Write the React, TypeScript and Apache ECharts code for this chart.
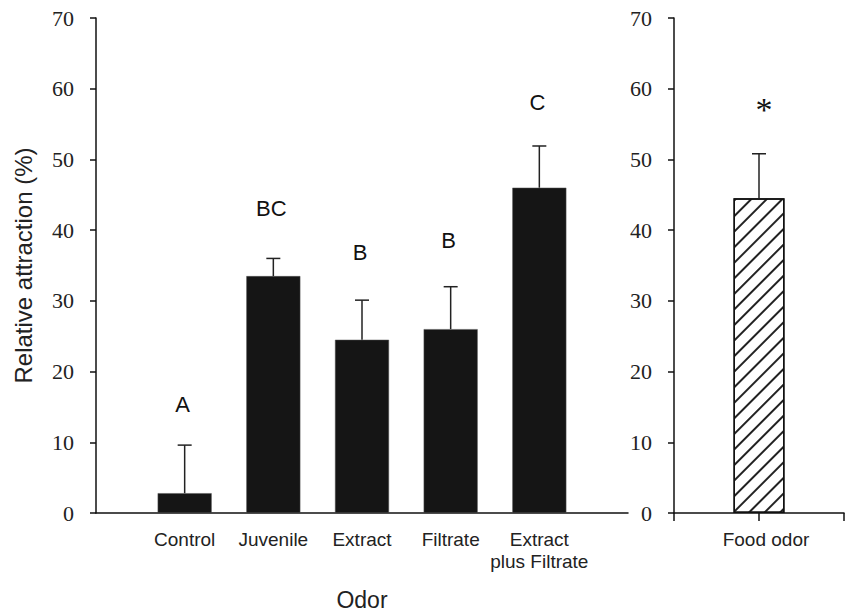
import React, { useEffect, useRef } from "react";
import * as echarts from "echarts";

const categories = ["Control", "Juvenile", "Extract", "Filtrate", "Extract\nplus Filtrate"];
const means = [2.8, 33.5, 24.5, 26.0, 46.0];
const errUpper = [9.6, 36.0, 30.1, 32.0, 51.9];
const letters = ["A", "BC", "B", "B", "C"];
const letterY = [15.3, 43.1, 36.9, 38.6, 58.1];

const foodCategories = ["Food odor"];
const foodMeans = [44.5];
const foodErrUpper = [50.8];
const foodLetters = ["*"];
const foodLetterY = [57.0];

const yMin = 0;
const yMax = 70;
const yInterval = 10;

const SERIF = "'Liberation Serif', 'DejaVu Serif', serif";
const SANS = "'Liberation Sans', Arial, sans-serif";
const INK = "#151515";

function errRender(params: any, api: any) {
  const x = api.value(0);
  const base = api.coord([x, api.value(1)]);
  const top = api.coord([x, api.value(2)]);
  const st = { stroke: "#222", lineWidth: 1.5 };
  return {
    type: "group",
    children: [
      { type: "line", shape: { x1: top[0], y1: base[1], x2: top[0], y2: top[1] }, style: st },
      { type: "line", shape: { x1: top[0] - 7, y1: top[1], x2: top[0] + 7, y2: top[1] }, style: st },
    ],
  };
}

function textRender(font: string, dx: number) {
  return (params: any, api: any) => {
    const p = api.coord([api.value(0), api.value(1)]);
    return {
      type: "text",
      x: p[0] + dx,
      y: p[1],
      style: {
        text: String(api.value(2)),
        font,
        fill: "#111",
        align: "center",
        verticalAlign: "middle",
      },
    };
  };
}

export default function App() {
  const ref = useRef<HTMLDivElement>(null);
  useEffect(() => {
    if (!ref.current) return;
    const chart = echarts.init(ref.current, undefined, { renderer: "svg" });
    const axisLine = { show: true, lineStyle: { color: "#111", width: 1.5 } };
    const yAxisCommon = {
      type: "value",
      min: yMin,
      max: yMax,
      interval: yInterval,
      axisLine,
      axisTick: { show: true, length: 6, lineStyle: { color: "#111", width: 1.5 } },
      splitLine: { show: false },
      axisLabel: { fontFamily: SERIF, fontSize: 22, color: "#222", margin: 22 },
    };
    const option: any = {
      animation: false,
      grid: [
        { left: 96, top: 18, width: 532, height: 495, outerBoundsMode: "none", containLabel: false },
        { left: 674, top: 18, width: 170, height: 495, outerBoundsMode: "none", containLabel: false },
      ],
      xAxis: [
        {
          type: "category",
          gridIndex: 0,
          data: ["", ...categories, ""],
          boundaryGap: false,
          axisLine,
          axisTick: { show: false },
          axisLabel: {
            interval: 0,
            fontFamily: SANS,
            fontSize: 19,
            lineHeight: 22,
            color: "#222",
            margin: 15,
          },
          name: "Odor",
          nameLocation: "middle",
          nameGap: 75,
          nameTextStyle: { fontFamily: SANS, fontSize: 23, color: "#222" },
        },
        {
          type: "category",
          gridIndex: 1,
          data: ["", ...foodCategories, ""],
          boundaryGap: false,
          axisLine,
          axisTick: { show: true, length: 8, lineStyle: { color: "#111", width: 1.5 } },
          axisLabel: {
            interval: 0,
            fontFamily: SANS,
            fontSize: 19,
            lineHeight: 22,
            color: "#222",
            margin: 15,
            padding: [0, 0, 0, 14],
          },
        },
      ],
      yAxis: [
        {
          ...yAxisCommon,
          gridIndex: 0,
          name: "Relative attraction (%)",
          nameLocation: "middle",
          nameRotate: 90,
          nameGap: 61,
          nameTextStyle: { fontFamily: SANS, fontSize: 24, color: "#222" },
        },
        { ...yAxisCommon, gridIndex: 1 },
      ],
      series: [
        {
          type: "bar",
          xAxisIndex: 0,
          yAxisIndex: 0,
          barWidth: 54,
          data: means.map((v, i) => [i + 1, v]),
          itemStyle: { color: INK, borderColor: "#555", borderWidth: 0.5 },
          z: 2,
        },
        {
          type: "custom",
          xAxisIndex: 0,
          yAxisIndex: 0,
          renderItem: errRender,
          encode: { x: 0, y: [1, 2] },
          data: means.map((v, i) => [i + 1, v, errUpper[i]]),
          z: 3,
        },
        {
          type: "custom",
          xAxisIndex: 0,
          yAxisIndex: 0,
          renderItem: textRender(`22px ${SANS}`, -2),
          encode: { x: 0, y: 1 },
          data: letters.map((t, i) => [i + 1, letterY[i], t]),
          z: 4,
        },
        {
          type: "bar",
          xAxisIndex: 1,
          yAxisIndex: 1,
          barWidth: 51,
          data: foodMeans.map((v, i) => [i + 1, v]),
          itemStyle: {
            color: "#fff",
            borderColor: "#111",
            borderWidth: 1.5,
            decal: {
              symbol: "rect",
              symbolSize: 1,
              dashArrayX: [1, 0],
              dashArrayY: [1.2, 9],
              rotation: -Math.PI / 4,
              color: "#222",
            },
          },
          z: 2,
        },
        {
          type: "custom",
          xAxisIndex: 1,
          yAxisIndex: 1,
          renderItem: errRender,
          encode: { x: 0, y: [1, 2] },
          data: foodMeans.map((v, i) => [i + 1, v, foodErrUpper[i]]),
          z: 3,
        },
        {
          type: "custom",
          xAxisIndex: 1,
          yAxisIndex: 1,
          renderItem: textRender(`34px ${SERIF}`, 5),
          encode: { x: 0, y: 1 },
          data: foodLetters.map((t, i) => [i + 1, foodLetterY[i], t]),
          z: 4,
        },
      ],
    };
    chart.setOption(option);
    return () => chart.dispose();
  }, []);
  return (
    <div
      ref={ref}
      style={{ position: "fixed", left: 0, top: 0, width: 848, height: 613, background: "#fff" }}
    />
  );
}
